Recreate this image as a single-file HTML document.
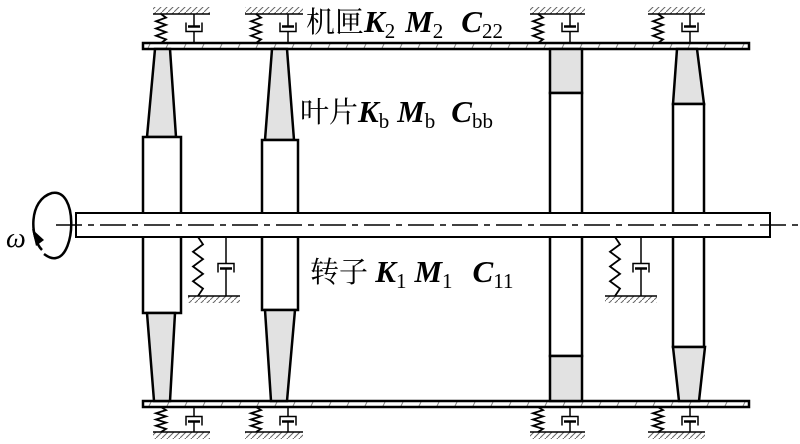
<!DOCTYPE html>
<html><head><meta charset="utf-8"><style>
html,body{margin:0;padding:0;background:#fff;width:800px;height:444px;overflow:hidden}
svg{display:block}
.t{font-family:"Liberation Serif","Noto Serif CJK SC",serif;font-size:29px;fill:#000}
.b{font-weight:bold;font-style:italic;font-size:31px}
.s{font-size:21px}
</style></head><body>
<svg id="g" width="800" height="444" viewBox="0 0 800 444" xmlns="http://www.w3.org/2000/svg">
<defs>
<pattern id="hp" width="6" height="6" patternUnits="userSpaceOnUse"><line x1="0" y1="6" x2="6" y2="0" stroke="#666" stroke-width="1"/></pattern>
<pattern id="pp" width="18" height="8" patternUnits="userSpaceOnUse"><line x1="4" y1="8" x2="8" y2="0" stroke="#888" stroke-width="1"/></pattern>
</defs>
<g stroke="#000" stroke-width="2.5" fill="none">
<rect x="143" y="43" width="606" height="6" fill="url(#pp)"/>
<rect x="143" y="401" width="606" height="6" fill="url(#pp)"/>
<polygon points="155,49 170,49 176,137 147,137" fill="#e2e2e2"/>
<rect x="143" y="137" width="38" height="176" fill="#fff"/>
<polygon points="147,313 175,313 170,401 154,401" fill="#e2e2e2"/>
<polygon points="272,49 287,49 294,140 265,140" fill="#e2e2e2"/>
<rect x="262" y="140" width="36" height="170" fill="#fff"/>
<polygon points="265,310 295,310 287,401 271,401" fill="#e2e2e2"/>
<rect x="550" y="49" width="32" height="44" fill="#e2e2e2"/>
<rect x="550" y="93" width="32" height="263" fill="#fff"/>
<rect x="550" y="356" width="32" height="45" fill="#e2e2e2"/>
<polygon points="677,49 697,49 704,104 673,104" fill="#e2e2e2"/>
<rect x="673" y="104" width="31" height="243" fill="#fff"/>
<polygon points="673,347 705,347 699,401 679,401" fill="#e2e2e2"/>
<rect x="76" y="213" width="694" height="24" fill="#fff" stroke-width="2"/>
</g>
<line x1="56" y1="225" x2="800" y2="225" stroke="#000" stroke-width="1.5" stroke-dasharray="26,6,6,6"/>
<path d="M42,250 C30,238 28,200 52,193 C78,188 76,255 56,258 C52,259 48,257 44,254" stroke="#000" stroke-width="2.5" fill="none" stroke-dasharray="0"/>
<path d="M46,252 C40,248 37,243 36,236" stroke="#fff" stroke-width="0" fill="none"/>
<polygon points="32,229 36,246 44,240" fill="#000"/>
<text x="6" y="247" class="t" style="font-style:italic;font-size:28px">ω</text>
<g id="dyn"></g>
<text x="306" y="32" class="t">机匣<tspan class="b">K</tspan><tspan class="s" dy="6">2</tspan><tspan class="b" dy="-6" dx="10">M</tspan><tspan class="s" dy="6">2</tspan><tspan class="b" dy="-6" dx="18">C</tspan><tspan class="s" dy="6">22</tspan></text>
<text x="300" y="122" class="t">叶片<tspan class="b">K</tspan><tspan class="s" dy="6">b</tspan><tspan class="b" dy="-6" dx="8">M</tspan><tspan class="s" dy="6">b</tspan><tspan class="b" dy="-6" dx="16">C</tspan><tspan class="s" dy="6">bb</tspan></text>
<text x="310" y="282" class="t">转子 <tspan class="b">K</tspan><tspan class="s" dy="6">1</tspan><tspan class="b" dy="-6" dx="8">M</tspan><tspan class="s" dy="6">1</tspan><tspan class="b" dy="-6" dx="20">C</tspan><tspan class="s" dy="6">11</tspan></text>
</svg>
<script>
var G=document.getElementById("dyn"),h="";
function spring(x,y1,y2){var n=8,d="M"+x+","+y1,st=(y2-y1)/n;for(var i=1;i<n;i++){d+=" L"+(x+(i%2?5:-5))+","+(y1+st*i);}d+=" L"+x+","+y2;h+='<path d="'+d+'" stroke="#000" stroke-width="1.8" fill="none"/>';}
function ground(x1,x2,y,up){h+='<rect x="'+x1+'" y="'+(up?y-7:y)+'" width="'+(x2-x1)+'" height="7" fill="url(#hp)"/>';h+='<line x1="'+x1+'" y1="'+y+'" x2="'+x2+'" y2="'+y+'" stroke="#000" stroke-width="1.5"/>';}
function damper(x,ya,yb){var m=(ya+yb)/2,dir=yb>ya?1:-1;
h+='<line x1="'+x+'" y1="'+ya+'" x2="'+x+'" y2="'+(m-dir*2)+'" stroke="#000" stroke-width="1.5"/>';
h+='<line x1="'+(x-6)+'" y1="'+(m-dir*2)+'" x2="'+(x+6)+'" y2="'+(m-dir*2)+'" stroke="#000" stroke-width="2.5"/>';
h+='<path d="M'+(x-8)+','+(m-dir*6)+' L'+(x-8)+','+(m+dir*3)+' L'+(x+8)+','+(m+dir*3)+' L'+(x+8)+','+(m-dir*6)+'" stroke="#000" stroke-width="1.5" fill="none"/>';
h+='<line x1="'+x+'" y1="'+(m+dir*3)+'" x2="'+x+'" y2="'+yb+'" stroke="#000" stroke-width="1.5"/>';}
[[153,210,161,194],[245,303,256,288],[530,585,538,570],[648,705,658,690]].forEach(function(a){
ground(a[0],a[1],14,true);spring(a[2],14,43);damper(a[3],14,43);
ground(a[0],a[1],432,false);spring(a[2],407,432);damper(a[3],432,407);});
ground(188,240,296,false);spring(198,237,296);damper(226,296,237);
ground(605,657,296,false);spring(615,237,296);damper(641,296,237);
G.innerHTML=h;
</script>
</body></html>
